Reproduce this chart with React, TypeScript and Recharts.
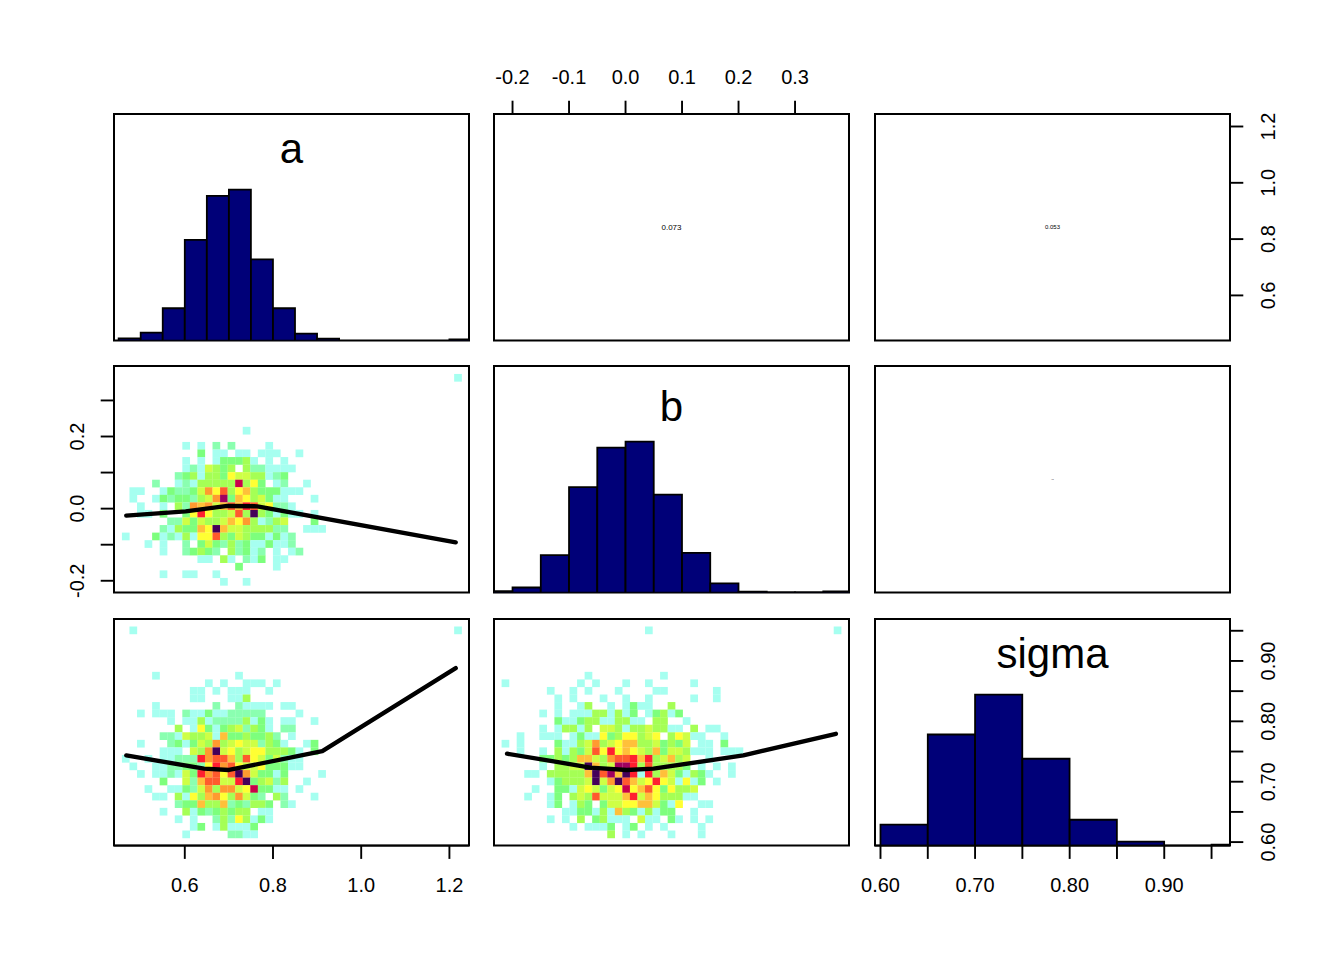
import React from "react";
import {
  ComposedChart,
  Bar,
  Scatter,
  XAxis,
  YAxis,
  ReferenceArea,
  ReferenceDot,
} from "recharts";

// axis ranges of the three parameters
const aRange = [0.4395, 1.2444];
const bRange = [-0.2328, 0.3955];
const sigmaRange = [0.5942, 0.9695];

const aTicks = [0.6, 0.8, 1.0, 1.2];
const bTicks = [-0.2, -0.1, 0, 0.1, 0.2, 0.3];
const bLeftLabels = [-0.2, 0, 0.2];
const sigmaTicks = [0.6, 0.65, 0.7, 0.75, 0.8, 0.85, 0.9, 0.95];
const sigmaLabels = [0.6, 0.7, 0.8, 0.9];

// histograms: bin centre, density
const aBins = [0.475, 0.525, 0.575, 0.625, 0.675, 0.725, 0.775, 0.825, 0.875, 0.925, 1.225];
const aDensity = [0.08, 0.28, 1.15, 3.58, 5.15, 5.37, 2.89, 1.15, 0.25, 0.07, 0.04];
const bBins = [-0.225, -0.175, -0.125, -0.075, -0.025, 0.025, 0.075, 0.125, 0.175, 0.225, 0.275, 0.325, 0.375];
const bDensity = [0.05, 0.18, 1.33, 3.74, 5.14, 5.35, 3.47, 1.41, 0.33, 0.03, 0.01, 0.01, 0.04];
const sigmaBins = [0.625, 0.675, 0.725, 0.775, 0.825, 0.875, 0.975];
const sigmaDensity = [1.05, 5.54, 7.53, 4.33, 1.29, 0.2, 0.05];

// smoothers
const abLineX = [0.4673, 0.602, 0.6964, 0.7644, 1.2143];
const abLineY = [-0.0194, -0.0075, 0.0075, 0.0064, -0.0936];
const asLineX = [0.4673, 0.6435, 0.7002, 0.9118, 1.2143];
const asLineY = [0.7436, 0.7216, 0.7195, 0.7508, 0.8882];
const bsLineX = [-0.2097, -0.1272, -0.0624, 0.0023, 0.0495, 0.2085, 0.3723];
const bsLineY = [0.7464, 0.7337, 0.7233, 0.7195, 0.7216, 0.7436, 0.7794];

// density levels per bin row: [row, first column, levels] ('.' is an empty bin)
type BinRow = [number, number, string];

const abBins: BinRow[] = [
  [0, 44, "1"],
  [7, 16, "1"],
  [9, 8, "1.1.2.2....1"],
  [10, 10, "3.11.11.111..1"],
  [11, 8, "1.1.133341.1.1"],
  [12, 8, "1215434.4221111"],
  [13, 7, "234144365544123"],
  [14, 4, "2..12144444b463.12..1"],
  [15, 1, "11..1322358694674333111"],
  [16, 1, "1..132332458c37645311...1"],
  [17, 2, "1..1.428785797a956221"],
  [18, 2, "11.3..36a644594d431311.1"],
  [19, 6, "2253544576841245...3"],
  [20, 5, "2143376d755444422..111"],
  [21, 0, "1...3121416694354331312"],
  [22, 3, "1.1..2.3532423113112"],
  [23, 5, "1..23432.42312.1.12"],
  [24, 10, "11.41.213.11"],
  [25, 15, "3....1"],
  [26, 5, "1..11..1"],
  [27, 13, "1..1"],
];

const asBins: BinRow[] = [
  [0, 1, "1"],
  [0, 44, "1"],
  [6, 4, "1..........1"],
  [7, 11, "1.1..111.1"],
  [8, 9, "11.1.111..1"],
  [9, 9, "11...114"],
  [10, 4, "1.......2..21111.11"],
  [11, 2, "1.111.21131122222....1"],
  [12, 6, "1.114122224131.11..1"],
  [13, 7, "4.16313452431.22"],
  [14, 5, "2215445173343342.1"],
  [15, 2, "1...2313548456552431..13"],
  [16, 5, "111.548d56456644431.3"],
  [17, 0, "1..1.11222a8997496535211"],
  [18, 1, "1..11223326a89655633311"],
  [19, 2, "1.112153a8969d853313....1"],
  [20, 5, "3..5279955ad34524..1"],
  [21, 3, "1..11325848856b3311.1"],
  [22, 4, "11.416478648532.42...1"],
  [23, 7, "2337447232443.21"],
  [24, 5, "1..413234344.11"],
  [25, 7, "1.1..24264131"],
  [26, 9, "13.141113"],
  [27, 8, "1.....2211"],
];

const bsBins: BinRow[] = [
  [0, 19, "1"],
  [0, 44, "1"],
  [6, 11, "1.........1"],
  [7, 0, "1.........1.1...1..1.....1"],
  [8, 6, "1..1.1...1....11......1"],
  [9, 7, "1.1...1..1..1.....1..1"],
  [10, 7, "1..14..1.1311..4"],
  [11, 5, "1.1.111441413.13413"],
  [12, 7, "311344114411.44..1"],
  [13, 5, "1.14414.55414454411.4.11"],
  [14, 2, "1..111.131163466456.46511..1"],
  [15, 0, "1.1....311458456774453435.11.3"],
  [16, 2, "1..1.4143596a6765473554111.111"],
  [17, 5, "334347754899a7a45745..1"],
  [18, 5, "1.4455d745cca4944443.1.1.1"],
  [19, 3, "11.444447d9c7da1a47531431..1"],
  [20, 6, "134445d58d9756a651613.1"],
  [21, 4, "1..331565356b679636445"],
  [22, 3, "1..13.45495557a57644411"],
  [23, 6, "13.143.35566775316..11"],
  [24, 8, "113314174314133..1"],
  [25, 6, "1.1.4.34111.511.31.1.1"],
  [26, 9, "1.1113.13.1.1....1"],
  [27, 14, "4.1.1...1...1"],
];

const levelColors: Record<string, string> = {
  "1": "#a6fff0",
  "2": "#8affb0",
  "3": "#7dff7d",
  "4": "#a5ff55",
  "5": "#ceff45",
  "6": "#ffff33",
  "7": "#ffc03a",
  "8": "#ff9a30",
  "9": "#ff5a2d",
  a: "#ff1f30",
  b: "#c90049",
  c: "#a00060",
  d: "#45005a",
};

const FONT = "Liberation Sans";
const PAD = 50;
const PANEL_W = 355;
const PANEL_H = 226.6;
const TICK = 13.3;
const CELL_W = 7.55;
const CELL_H = 7.56;

// bin grid of each variable: centre of the first bin and the step
const aGrid = { start: 0.466, step: 0.01712 };
const bGrid = { start: -0.2127, step: 0.01336 };
const bRowGrid = { start: 0.363, step: -0.02095 };
const sigmaRowGrid = { start: 0.9508, step: -0.012514 };

function toCells(rows: BinRow[], xGrid: typeof aGrid, yGrid: typeof aGrid) {
  const cells: { x: number; y: number; level: string }[] = [];
  rows.forEach(([row, first, levels]) => {
    levels.split("").forEach((level, i) => {
      if (level === ".") return;
      cells.push({
        x: xGrid.start + (first + i) * xGrid.step,
        y: yGrid.start + row * yGrid.step,
        level,
      });
    });
  });
  return cells;
}

const zip = (xs: number[], ys: number[]) => xs.map((x, i) => ({ x, y: ys[i] }));

function CellShape(props: any) {
  const { cx, cy, payload } = props;
  return (
    <rect
      x={cx - CELL_W / 2}
      y={cy - CELL_H / 2}
      width={CELL_W + 0.15}
      height={CELL_H + 0.15}
      fill={levelColors[payload.level]}
    />
  );
}

// the smoother is a Scatter too, so that it stays above the cells
const NoPoint = () => <g />;

type AxisSpec = { side: string; ticks: number[]; labels: number[]; digits: number };

const axisTick = (spec: AxisSpec) => (p: any) => {
  const value = p.payload.value;
  if (!spec.labels.some((l) => Math.abs(l - value) < 1e-6)) return <g />;
  const text = Number(value).toFixed(spec.digits);
  const common = {
    fontFamily: FONT,
    fontSize: 20,
    fill: "#000",
    textAnchor: "middle" as const,
    dominantBaseline: "central" as const,
  };
  if (spec.side === "top") return <text x={p.x} y={p.y - 23.7} {...common}>{text}</text>;
  if (spec.side === "bottom") return <text x={p.x} y={p.y + 26} {...common}>{text}</text>;
  const x = spec.side === "left" ? p.x - 24 : p.x + 25;
  return (
    <text x={x} y={p.y} transform={`rotate(-90 ${x} ${p.y})`} {...common}>
      {text}
    </text>
  );
};

type PanelProps = {
  col: number;
  row: number;
  xRange: number[];
  yRange: number[];
  xAxis?: AxisSpec;
  yAxis?: AxisSpec;
  sideRange?: number[];
  cells?: { x: number; y: number; level: string }[];
  line?: { x: number; y: number }[];
  hist?: { x: number; y: number }[];
  barPx?: number;
  title?: string;
  titleAt?: number;
  corr?: string;
  corrSize?: number;
};

const tickLine = { stroke: "#000", strokeWidth: 1.9 };

function Panel(p: PanelProps) {
  const left = 114 + p.col * 380.4;
  const top = 114 + p.row * 252.3;
  const [x0, x1] = p.xRange;
  const [y0, y1] = p.yRange;
  const margin = {
    top: p.xAxis?.side === "top" ? 0 : PAD,
    bottom: p.xAxis?.side === "bottom" ? 0 : PAD,
    left: p.yAxis?.side === "left" ? 0 : PAD,
    right: p.yAxis?.side === "right" ? 0 : PAD,
  };
  return (
    <div style={{ position: "absolute", left: left - PAD, top: top - PAD }}>
      <ComposedChart
        width={PANEL_W + 2 * PAD}
        height={PANEL_H + 2 * PAD}
        margin={margin}
        data={p.hist}
      >
        <XAxis
          xAxisId="x"
          type="number"
          dataKey="x"
          domain={[x0, x1]}
          allowDataOverflow
          hide={!p.xAxis}
          orientation={p.xAxis?.side === "top" ? "top" : "bottom"}
          height={PAD}
          ticks={p.xAxis?.ticks}
          interval={0}
          tickSize={TICK}
          tickMargin={0}
          axisLine={tickLine}
          tickLine={tickLine}
          tick={p.xAxis ? axisTick(p.xAxis) : false}
        />
        <YAxis
          yAxisId="y"
          type="number"
          dataKey="y"
          domain={[y0, y1]}
          allowDataOverflow
          hide={!p.yAxis || !!p.sideRange}
          orientation={p.yAxis?.side === "right" ? "right" : "left"}
          width={PAD}
          ticks={p.yAxis?.ticks}
          interval={0}
          tickSize={TICK}
          tickMargin={0}
          axisLine={tickLine}
          tickLine={tickLine}
          tick={p.yAxis ? axisTick(p.yAxis) : false}
        />
        {p.sideRange && p.yAxis && (
          <YAxis
            yAxisId="side"
            type="number"
            domain={p.sideRange}
            allowDataOverflow
            orientation="right"
            width={PAD}
            ticks={p.yAxis.ticks}
            interval={0}
            tickSize={TICK}
            tickMargin={0}
            axisLine={tickLine}
            tickLine={tickLine}
            tick={axisTick(p.yAxis)}
          />
        )}
        {p.hist && (
          <Bar
            xAxisId="x"
            yAxisId="y"
            dataKey="y"
            barSize={p.barPx}
            fill="#000078"
            stroke="#000"
            strokeWidth={1.8}
            isAnimationActive={false}
          />
        )}
        {p.cells && (
          <Scatter
            xAxisId="x"
            yAxisId="y"
            data={p.cells}
            shape={CellShape}
            isAnimationActive={false}
          />
        )}
        {p.line && (
          <Scatter
            xAxisId="x"
            yAxisId="y"
            data={p.line}
            shape={NoPoint}
            line={{ stroke: "#000", strokeWidth: 4.4, strokeLinecap: "round", strokeLinejoin: "round" }}
            isAnimationActive={false}
          />
        )}
        <ReferenceArea
          xAxisId="x"
          yAxisId="y"
          x1={x0}
          x2={x1}
          y1={y0}
          y2={y1}
          fill="none"
          stroke="#000"
          strokeWidth={2}
        />
        {p.title && (
          <ReferenceDot
            xAxisId="x"
            yAxisId="y"
            x={(x0 + x1) / 2}
            y={y0 + (y1 - y0) * (p.titleAt ?? 0.5)}
            r={0}
            stroke="none"
            label={{ value: p.title, position: "center", fontSize: 42, fontFamily: FONT, fill: "#000" }}
          />
        )}
        {p.corr && (
          <ReferenceDot
            xAxisId="x"
            yAxisId="y"
            x={(x0 + x1) / 2}
            y={(y0 + y1) / 2}
            r={0}
            stroke="none"
            label={{ value: p.corr, position: "center", fontSize: p.corrSize, fontFamily: FONT, fill: "#000" }}
          />
        )}
      </ComposedChart>
    </div>
  );
}

export default function App() {
  const aBottom = { side: "bottom", ticks: aTicks, labels: aTicks, digits: 1 };
  const aRight = { side: "right", ticks: aTicks, labels: aTicks, digits: 1 };
  const bTop = { side: "top", ticks: bTicks, labels: bTicks, digits: 1 };
  const bLeft = { side: "left", ticks: bTicks, labels: bLeftLabels, digits: 1 };
  const sBottom = { side: "bottom", ticks: sigmaTicks, labels: sigmaLabels, digits: 2 };
  const sRight = { side: "right", ticks: sigmaTicks, labels: sigmaLabels, digits: 2 };
  return (
    <div style={{ position: "absolute", left: 0, top: 0, width: 1344, height: 960, background: "#fff" }}>
      <Panel col={0} row={0} xRange={aRange} yRange={[0, 8.06]} hist={zip(aBins, aDensity)} barPx={22} title="a" titleAt={0.85} />
      <Panel col={1} row={0} xRange={bRange} yRange={aRange} xAxis={bTop} corr="0.073" corrSize={8} />
      <Panel col={2} row={0} xRange={sigmaRange} yRange={aRange} yAxis={aRight} corr="0.053" corrSize={6} />
      <Panel col={0} row={1} xRange={aRange} yRange={bRange} yAxis={bLeft} cells={toCells(abBins, aGrid, bRowGrid)} line={zip(abLineX, abLineY)} />
      <Panel col={1} row={1} xRange={bRange} yRange={[0, 8.03]} hist={zip(bBins, bDensity)} barPx={28.2} title="b" titleAt={0.825} />
      <Panel col={2} row={1} xRange={sigmaRange} yRange={bRange} corr="0.0085" corrSize={0.8} />
      <Panel col={0} row={2} xRange={aRange} yRange={sigmaRange} xAxis={aBottom} cells={toCells(asBins, aGrid, sigmaRowGrid)} line={zip(asLineX, asLineY)} />
      <Panel col={1} row={2} xRange={bRange} yRange={sigmaRange} cells={toCells(bsBins, bGrid, sigmaRowGrid)} line={zip(bsLineX, bsLineY)} />
      <Panel col={2} row={2} xRange={sigmaRange} yRange={[0, 11.3]} sideRange={sigmaRange} xAxis={sBottom} yAxis={sRight} hist={zip(sigmaBins, sigmaDensity)} barPx={47.2} title="sigma" titleAt={0.848} />
    </div>
  );
}
